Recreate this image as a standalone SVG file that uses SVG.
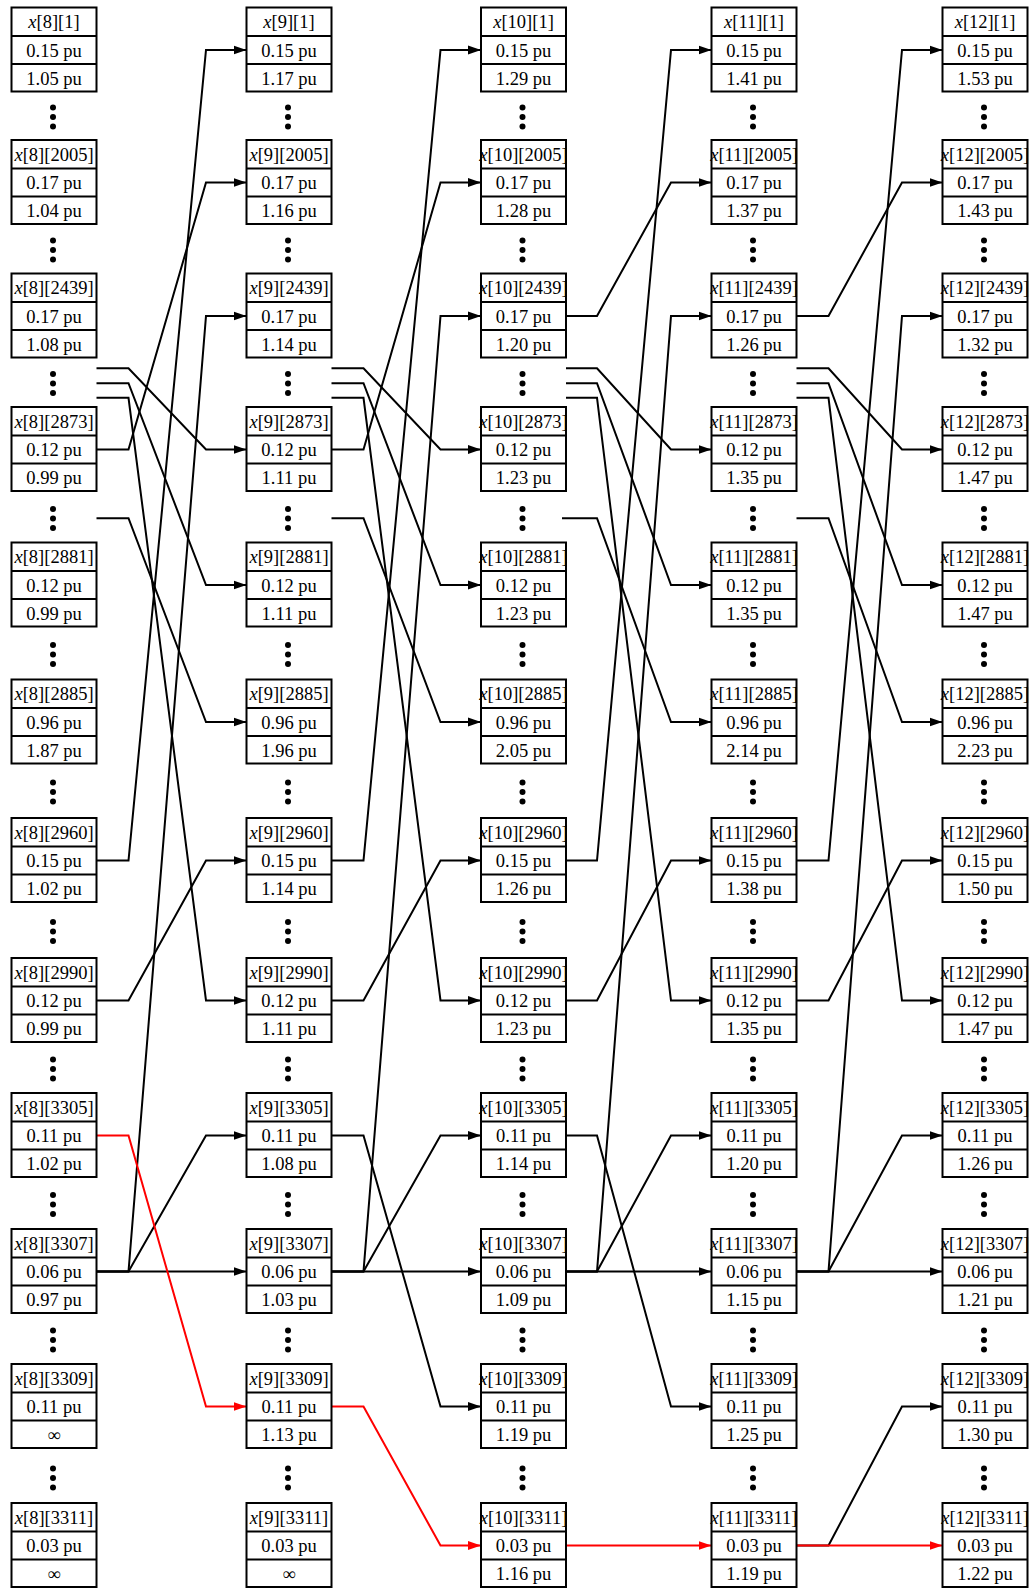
<svg xmlns="http://www.w3.org/2000/svg" xmlns:xlink="http://www.w3.org/1999/xlink" width="1031" height="1590" viewBox="0 0 1031 1590">
<style>
.n rect{fill:#fff;stroke:#000;stroke-width:2}
.n path{fill:none;stroke:#000;stroke-width:2}
.n text{font-family:"Liberation Serif","Times New Roman",serif;font-size:18.5px;text-anchor:middle;fill:#000}
.n tspan.i{font-style:italic}
.e path{fill:none;stroke:#000;stroke-width:2;marker-end:url(#ah)}
.e path.r{stroke:#ff0000;marker-end:url(#ahr)}
</style>
<defs>
<marker id="ah" markerUnits="userSpaceOnUse" viewBox="0 0 14 10" markerWidth="14" markerHeight="10" refX="13" refY="5" orient="auto"><path d="M0,0.5L13,5L0,9.5z" fill="#000"/></marker>
<marker id="ahr" markerUnits="userSpaceOnUse" viewBox="0 0 14 10" markerWidth="14" markerHeight="10" refX="13" refY="5" orient="auto"><path d="M0,0.5L13,5L0,9.5z" fill="#ff0000"/></marker>
<g id="dots"><circle cx="0" cy="-9.5" r="3"/><circle cx="0" cy="0" r="3"/><circle cx="0" cy="9.5" r="3"/></g>
</defs>
<rect width="1031" height="1590" fill="#fff"/>

<g id="dotrows" fill="#000">
<use xlink:href="#dots" x="53" y="117"/><use xlink:href="#dots" x="53" y="250"/><use xlink:href="#dots" x="53" y="383.5"/><use xlink:href="#dots" x="53" y="518.5"/><use xlink:href="#dots" x="53" y="654.5"/><use xlink:href="#dots" x="53" y="792"/><use xlink:href="#dots" x="53" y="931.5"/><use xlink:href="#dots" x="53" y="1069"/><use xlink:href="#dots" x="53" y="1204.5"/><use xlink:href="#dots" x="53" y="1340"/><use xlink:href="#dots" x="53" y="1478"/>
<use xlink:href="#dots" x="288" y="117"/><use xlink:href="#dots" x="288" y="250"/><use xlink:href="#dots" x="288" y="383.5"/><use xlink:href="#dots" x="288" y="518.5"/><use xlink:href="#dots" x="288" y="654.5"/><use xlink:href="#dots" x="288" y="792"/><use xlink:href="#dots" x="288" y="931.5"/><use xlink:href="#dots" x="288" y="1069"/><use xlink:href="#dots" x="288" y="1204.5"/><use xlink:href="#dots" x="288" y="1340"/><use xlink:href="#dots" x="288" y="1478"/>
<use xlink:href="#dots" x="522.5" y="117"/><use xlink:href="#dots" x="522.5" y="250"/><use xlink:href="#dots" x="522.5" y="383.5"/><use xlink:href="#dots" x="522.5" y="518.5"/><use xlink:href="#dots" x="522.5" y="654.5"/><use xlink:href="#dots" x="522.5" y="792"/><use xlink:href="#dots" x="522.5" y="931.5"/><use xlink:href="#dots" x="522.5" y="1069"/><use xlink:href="#dots" x="522.5" y="1204.5"/><use xlink:href="#dots" x="522.5" y="1340"/><use xlink:href="#dots" x="522.5" y="1478"/>
<use xlink:href="#dots" x="753" y="117"/><use xlink:href="#dots" x="753" y="250"/><use xlink:href="#dots" x="753" y="383.5"/><use xlink:href="#dots" x="753" y="518.5"/><use xlink:href="#dots" x="753" y="654.5"/><use xlink:href="#dots" x="753" y="792"/><use xlink:href="#dots" x="753" y="931.5"/><use xlink:href="#dots" x="753" y="1069"/><use xlink:href="#dots" x="753" y="1204.5"/><use xlink:href="#dots" x="753" y="1340"/><use xlink:href="#dots" x="753" y="1478"/>
<use xlink:href="#dots" x="984" y="117"/><use xlink:href="#dots" x="984" y="250"/><use xlink:href="#dots" x="984" y="383.5"/><use xlink:href="#dots" x="984" y="518.5"/><use xlink:href="#dots" x="984" y="654.5"/><use xlink:href="#dots" x="984" y="792"/><use xlink:href="#dots" x="984" y="931.5"/><use xlink:href="#dots" x="984" y="1069"/><use xlink:href="#dots" x="984" y="1204.5"/><use xlink:href="#dots" x="984" y="1340"/><use xlink:href="#dots" x="984" y="1478"/>
</g>

<g id="edges" class="e">
<path d="M96.5,368.25H128.5L206,449.5H246.5"/>
<path d="M96.5,383.25H128.5L206,585H246.5"/>
<path d="M96.5,397.75H128.5L206,1000.5H246.5"/>
<path d="M96.5,518.25H128.5L206,722H246.5"/>
<path d="M96.5,860.5H128.5L206,50H246.5"/>
<path d="M96.5,1000.5H128.5L206,860.5H246.5"/>
<path d="M96.5,1271.5H128.5L206,316H246.5"/>
<path d="M96.5,1271.5H128.5L206,1135.5H246.5"/>
<path d="M96.5,1271.5H246.5"/>
<path d="M96.5,449.5H128.5L206,182.5H246.5"/>

<path d="M331.5,368.25H363.5L440.5,449.5H481"/>
<path d="M331.5,383.25H363.5L440.5,585H481"/>
<path d="M331.5,397.75H363.5L440.5,1000.5H481"/>
<path d="M331.5,518.25H363.5L440.5,722H481"/>
<path d="M331.5,860.5H363.5L440.5,50H481"/>
<path d="M331.5,1000.5H363.5L440.5,860.5H481"/>
<path d="M331.5,1271.5H363.5L440.5,316H481"/>
<path d="M331.5,1271.5H363.5L440.5,1135.5H481"/>
<path d="M331.5,1271.5H481"/>
<path d="M331.5,449.5H363.5L440.5,182.5H481"/>
<path d="M331.5,1135.5H363.5L440.5,1406.5H481"/>

<path d="M566,368.25H597L671,449.5H711.5"/>
<path d="M566,383.25H597L671,585H711.5"/>
<path d="M566,397.75H597L671,1000.5H711.5"/>
<path d="M562,518.25H597L671,722H711.5"/>
<path d="M566,860.5H597L671,50H711.5"/>
<path d="M566,1000.5H597L671,860.5H711.5"/>
<path d="M566,1271.5H597L671,316H711.5"/>
<path d="M566,1271.5H597L671,1135.5H711.5"/>
<path d="M566,1271.5H711.5"/>
<path d="M566,316H597L671,182.5H711.5"/>
<path d="M566,1135.5H597L671,1406.5H711.5"/>

<path d="M796.5,368.25H828.5L902,449.5H942.5"/>
<path d="M796.5,383.25H828.5L902,585H942.5"/>
<path d="M796.5,397.75H828.5L902,1000.5H942.5"/>
<path d="M796.5,518.25H828.5L902,722H942.5"/>
<path d="M796.5,860.5H828.5L902,50H942.5"/>
<path d="M796.5,1000.5H828.5L902,860.5H942.5"/>
<path d="M796.5,1271.5H828.5L902,316H942.5"/>
<path d="M796.5,1271.5H828.5L902,1135.5H942.5"/>
<path d="M796.5,1271.5H942.5"/>
<path d="M796.5,316H828.5L902,182.5H942.5"/>
<path d="M796.5,1545.5H828.5L902,1406.5H942.5"/>

<path class="r" d="M96.5,1135.5H128.5L206,1406.5H246.5"/>
<path class="r" d="M331.5,1406.5H363.5L440.5,1545.5H481"/>
<path class="r" d="M566,1545.5H711.5"/>
<path class="r" d="M796.5,1545.5H942.5"/>
</g>

<g id="nodes">
<!-- column x[8] -->
<g id="x8_1" class="n" transform="translate(11.5,7.5)"><rect width="85" height="84"/><path d="M0,28.5H85M0,56.5H85"/><text x="42.5" y="20.5"><tspan class="i">x</tspan>[8][1]</text><text x="42.5" y="49">0.15 pu</text><text x="42.5" y="77">1.05 pu</text></g>
<g id="x8_2005" class="n" transform="translate(11.5,140)"><rect width="85" height="84"/><path d="M0,28.5H85M0,56.5H85"/><text x="42.5" y="20.5"><tspan class="i">x</tspan>[8][2005]</text><text x="42.5" y="49">0.17 pu</text><text x="42.5" y="77">1.04 pu</text></g>
<g id="x8_2439" class="n" transform="translate(11.5,273.5)"><rect width="85" height="84"/><path d="M0,28.5H85M0,56.5H85"/><text x="42.5" y="20.5"><tspan class="i">x</tspan>[8][2439]</text><text x="42.5" y="49">0.17 pu</text><text x="42.5" y="77">1.08 pu</text></g>
<g id="x8_2873" class="n" transform="translate(11.5,407)"><rect width="85" height="84"/><path d="M0,28.5H85M0,56.5H85"/><text x="42.5" y="20.5"><tspan class="i">x</tspan>[8][2873]</text><text x="42.5" y="49">0.12 pu</text><text x="42.5" y="77">0.99 pu</text></g>
<g id="x8_2881" class="n" transform="translate(11.5,542.5)"><rect width="85" height="84"/><path d="M0,28.5H85M0,56.5H85"/><text x="42.5" y="20.5"><tspan class="i">x</tspan>[8][2881]</text><text x="42.5" y="49">0.12 pu</text><text x="42.5" y="77">0.99 pu</text></g>
<g id="x8_2885" class="n" transform="translate(11.5,679.5)"><rect width="85" height="84"/><path d="M0,28.5H85M0,56.5H85"/><text x="42.5" y="20.5"><tspan class="i">x</tspan>[8][2885]</text><text x="42.5" y="49">0.96 pu</text><text x="42.5" y="77">1.87 pu</text></g>
<g id="x8_2960" class="n" transform="translate(11.5,818)"><rect width="85" height="84"/><path d="M0,28.5H85M0,56.5H85"/><text x="42.5" y="20.5"><tspan class="i">x</tspan>[8][2960]</text><text x="42.5" y="49">0.15 pu</text><text x="42.5" y="77">1.02 pu</text></g>
<g id="x8_2990" class="n" transform="translate(11.5,958)"><rect width="85" height="84"/><path d="M0,28.5H85M0,56.5H85"/><text x="42.5" y="20.5"><tspan class="i">x</tspan>[8][2990]</text><text x="42.5" y="49">0.12 pu</text><text x="42.5" y="77">0.99 pu</text></g>
<g id="x8_3305" class="n" transform="translate(11.5,1093)"><rect width="85" height="84"/><path d="M0,28.5H85M0,56.5H85"/><text x="42.5" y="20.5"><tspan class="i">x</tspan>[8][3305]</text><text x="42.5" y="49">0.11 pu</text><text x="42.5" y="77">1.02 pu</text></g>
<g id="x8_3307" class="n" transform="translate(11.5,1229)"><rect width="85" height="84"/><path d="M0,28.5H85M0,56.5H85"/><text x="42.5" y="20.5"><tspan class="i">x</tspan>[8][3307]</text><text x="42.5" y="49">0.06 pu</text><text x="42.5" y="77">0.97 pu</text></g>
<g id="x8_3309" class="n" transform="translate(11.5,1364)"><rect width="85" height="84"/><path d="M0,28.5H85M0,56.5H85"/><text x="42.5" y="20.5"><tspan class="i">x</tspan>[8][3309]</text><text x="42.5" y="49">0.11 pu</text><text x="42.5" y="77">∞</text></g>
<g id="x8_3311" class="n" transform="translate(11.5,1503)"><rect width="85" height="84"/><path d="M0,28.5H85M0,56.5H85"/><text x="42.5" y="20.5"><tspan class="i">x</tspan>[8][3311]</text><text x="42.5" y="49">0.03 pu</text><text x="42.5" y="77">∞</text></g>
<!-- column x[9] -->
<g id="x9_1" class="n" transform="translate(246.5,7.5)"><rect width="85" height="84"/><path d="M0,28.5H85M0,56.5H85"/><text x="42.5" y="20.5"><tspan class="i">x</tspan>[9][1]</text><text x="42.5" y="49">0.15 pu</text><text x="42.5" y="77">1.17 pu</text></g>
<g id="x9_2005" class="n" transform="translate(246.5,140)"><rect width="85" height="84"/><path d="M0,28.5H85M0,56.5H85"/><text x="42.5" y="20.5"><tspan class="i">x</tspan>[9][2005]</text><text x="42.5" y="49">0.17 pu</text><text x="42.5" y="77">1.16 pu</text></g>
<g id="x9_2439" class="n" transform="translate(246.5,273.5)"><rect width="85" height="84"/><path d="M0,28.5H85M0,56.5H85"/><text x="42.5" y="20.5"><tspan class="i">x</tspan>[9][2439]</text><text x="42.5" y="49">0.17 pu</text><text x="42.5" y="77">1.14 pu</text></g>
<g id="x9_2873" class="n" transform="translate(246.5,407)"><rect width="85" height="84"/><path d="M0,28.5H85M0,56.5H85"/><text x="42.5" y="20.5"><tspan class="i">x</tspan>[9][2873]</text><text x="42.5" y="49">0.12 pu</text><text x="42.5" y="77">1.11 pu</text></g>
<g id="x9_2881" class="n" transform="translate(246.5,542.5)"><rect width="85" height="84"/><path d="M0,28.5H85M0,56.5H85"/><text x="42.5" y="20.5"><tspan class="i">x</tspan>[9][2881]</text><text x="42.5" y="49">0.12 pu</text><text x="42.5" y="77">1.11 pu</text></g>
<g id="x9_2885" class="n" transform="translate(246.5,679.5)"><rect width="85" height="84"/><path d="M0,28.5H85M0,56.5H85"/><text x="42.5" y="20.5"><tspan class="i">x</tspan>[9][2885]</text><text x="42.5" y="49">0.96 pu</text><text x="42.5" y="77">1.96 pu</text></g>
<g id="x9_2960" class="n" transform="translate(246.5,818)"><rect width="85" height="84"/><path d="M0,28.5H85M0,56.5H85"/><text x="42.5" y="20.5"><tspan class="i">x</tspan>[9][2960]</text><text x="42.5" y="49">0.15 pu</text><text x="42.5" y="77">1.14 pu</text></g>
<g id="x9_2990" class="n" transform="translate(246.5,958)"><rect width="85" height="84"/><path d="M0,28.5H85M0,56.5H85"/><text x="42.5" y="20.5"><tspan class="i">x</tspan>[9][2990]</text><text x="42.5" y="49">0.12 pu</text><text x="42.5" y="77">1.11 pu</text></g>
<g id="x9_3305" class="n" transform="translate(246.5,1093)"><rect width="85" height="84"/><path d="M0,28.5H85M0,56.5H85"/><text x="42.5" y="20.5"><tspan class="i">x</tspan>[9][3305]</text><text x="42.5" y="49">0.11 pu</text><text x="42.5" y="77">1.08 pu</text></g>
<g id="x9_3307" class="n" transform="translate(246.5,1229)"><rect width="85" height="84"/><path d="M0,28.5H85M0,56.5H85"/><text x="42.5" y="20.5"><tspan class="i">x</tspan>[9][3307]</text><text x="42.5" y="49">0.06 pu</text><text x="42.5" y="77">1.03 pu</text></g>
<g id="x9_3309" class="n" transform="translate(246.5,1364)"><rect width="85" height="84"/><path d="M0,28.5H85M0,56.5H85"/><text x="42.5" y="20.5"><tspan class="i">x</tspan>[9][3309]</text><text x="42.5" y="49">0.11 pu</text><text x="42.5" y="77">1.13 pu</text></g>
<g id="x9_3311" class="n" transform="translate(246.5,1503)"><rect width="85" height="84"/><path d="M0,28.5H85M0,56.5H85"/><text x="42.5" y="20.5"><tspan class="i">x</tspan>[9][3311]</text><text x="42.5" y="49">0.03 pu</text><text x="42.5" y="77">∞</text></g>
<!-- column x[10] -->
<g id="x10_1" class="n" transform="translate(481,7.5)"><rect width="85" height="84"/><path d="M0,28.5H85M0,56.5H85"/><text x="42.5" y="20.5"><tspan class="i">x</tspan>[10][1]</text><text x="42.5" y="49">0.15 pu</text><text x="42.5" y="77">1.29 pu</text></g>
<g id="x10_2005" class="n" transform="translate(481,140)"><rect width="85" height="84"/><path d="M0,28.5H85M0,56.5H85"/><text x="42.5" y="20.5"><tspan class="i">x</tspan>[10][2005]</text><text x="42.5" y="49">0.17 pu</text><text x="42.5" y="77">1.28 pu</text></g>
<g id="x10_2439" class="n" transform="translate(481,273.5)"><rect width="85" height="84"/><path d="M0,28.5H85M0,56.5H85"/><text x="42.5" y="20.5"><tspan class="i">x</tspan>[10][2439]</text><text x="42.5" y="49">0.17 pu</text><text x="42.5" y="77">1.20 pu</text></g>
<g id="x10_2873" class="n" transform="translate(481,407)"><rect width="85" height="84"/><path d="M0,28.5H85M0,56.5H85"/><text x="42.5" y="20.5"><tspan class="i">x</tspan>[10][2873]</text><text x="42.5" y="49">0.12 pu</text><text x="42.5" y="77">1.23 pu</text></g>
<g id="x10_2881" class="n" transform="translate(481,542.5)"><rect width="85" height="84"/><path d="M0,28.5H85M0,56.5H85"/><text x="42.5" y="20.5"><tspan class="i">x</tspan>[10][2881]</text><text x="42.5" y="49">0.12 pu</text><text x="42.5" y="77">1.23 pu</text></g>
<g id="x10_2885" class="n" transform="translate(481,679.5)"><rect width="85" height="84"/><path d="M0,28.5H85M0,56.5H85"/><text x="42.5" y="20.5"><tspan class="i">x</tspan>[10][2885]</text><text x="42.5" y="49">0.96 pu</text><text x="42.5" y="77">2.05 pu</text></g>
<g id="x10_2960" class="n" transform="translate(481,818)"><rect width="85" height="84"/><path d="M0,28.5H85M0,56.5H85"/><text x="42.5" y="20.5"><tspan class="i">x</tspan>[10][2960]</text><text x="42.5" y="49">0.15 pu</text><text x="42.5" y="77">1.26 pu</text></g>
<g id="x10_2990" class="n" transform="translate(481,958)"><rect width="85" height="84"/><path d="M0,28.5H85M0,56.5H85"/><text x="42.5" y="20.5"><tspan class="i">x</tspan>[10][2990]</text><text x="42.5" y="49">0.12 pu</text><text x="42.5" y="77">1.23 pu</text></g>
<g id="x10_3305" class="n" transform="translate(481,1093)"><rect width="85" height="84"/><path d="M0,28.5H85M0,56.5H85"/><text x="42.5" y="20.5"><tspan class="i">x</tspan>[10][3305]</text><text x="42.5" y="49">0.11 pu</text><text x="42.5" y="77">1.14 pu</text></g>
<g id="x10_3307" class="n" transform="translate(481,1229)"><rect width="85" height="84"/><path d="M0,28.5H85M0,56.5H85"/><text x="42.5" y="20.5"><tspan class="i">x</tspan>[10][3307]</text><text x="42.5" y="49">0.06 pu</text><text x="42.5" y="77">1.09 pu</text></g>
<g id="x10_3309" class="n" transform="translate(481,1364)"><rect width="85" height="84"/><path d="M0,28.5H85M0,56.5H85"/><text x="42.5" y="20.5"><tspan class="i">x</tspan>[10][3309]</text><text x="42.5" y="49">0.11 pu</text><text x="42.5" y="77">1.19 pu</text></g>
<g id="x10_3311" class="n" transform="translate(481,1503)"><rect width="85" height="84"/><path d="M0,28.5H85M0,56.5H85"/><text x="42.5" y="20.5"><tspan class="i">x</tspan>[10][3311]</text><text x="42.5" y="49">0.03 pu</text><text x="42.5" y="77">1.16 pu</text></g>
<!-- column x[11] -->
<g id="x11_1" class="n" transform="translate(711.5,7.5)"><rect width="85" height="84"/><path d="M0,28.5H85M0,56.5H85"/><text x="42.5" y="20.5"><tspan class="i">x</tspan>[11][1]</text><text x="42.5" y="49">0.15 pu</text><text x="42.5" y="77">1.41 pu</text></g>
<g id="x11_2005" class="n" transform="translate(711.5,140)"><rect width="85" height="84"/><path d="M0,28.5H85M0,56.5H85"/><text x="42.5" y="20.5"><tspan class="i">x</tspan>[11][2005]</text><text x="42.5" y="49">0.17 pu</text><text x="42.5" y="77">1.37 pu</text></g>
<g id="x11_2439" class="n" transform="translate(711.5,273.5)"><rect width="85" height="84"/><path d="M0,28.5H85M0,56.5H85"/><text x="42.5" y="20.5"><tspan class="i">x</tspan>[11][2439]</text><text x="42.5" y="49">0.17 pu</text><text x="42.5" y="77">1.26 pu</text></g>
<g id="x11_2873" class="n" transform="translate(711.5,407)"><rect width="85" height="84"/><path d="M0,28.5H85M0,56.5H85"/><text x="42.5" y="20.5"><tspan class="i">x</tspan>[11][2873]</text><text x="42.5" y="49">0.12 pu</text><text x="42.5" y="77">1.35 pu</text></g>
<g id="x11_2881" class="n" transform="translate(711.5,542.5)"><rect width="85" height="84"/><path d="M0,28.5H85M0,56.5H85"/><text x="42.5" y="20.5"><tspan class="i">x</tspan>[11][2881]</text><text x="42.5" y="49">0.12 pu</text><text x="42.5" y="77">1.35 pu</text></g>
<g id="x11_2885" class="n" transform="translate(711.5,679.5)"><rect width="85" height="84"/><path d="M0,28.5H85M0,56.5H85"/><text x="42.5" y="20.5"><tspan class="i">x</tspan>[11][2885]</text><text x="42.5" y="49">0.96 pu</text><text x="42.5" y="77">2.14 pu</text></g>
<g id="x11_2960" class="n" transform="translate(711.5,818)"><rect width="85" height="84"/><path d="M0,28.5H85M0,56.5H85"/><text x="42.5" y="20.5"><tspan class="i">x</tspan>[11][2960]</text><text x="42.5" y="49">0.15 pu</text><text x="42.5" y="77">1.38 pu</text></g>
<g id="x11_2990" class="n" transform="translate(711.5,958)"><rect width="85" height="84"/><path d="M0,28.5H85M0,56.5H85"/><text x="42.5" y="20.5"><tspan class="i">x</tspan>[11][2990]</text><text x="42.5" y="49">0.12 pu</text><text x="42.5" y="77">1.35 pu</text></g>
<g id="x11_3305" class="n" transform="translate(711.5,1093)"><rect width="85" height="84"/><path d="M0,28.5H85M0,56.5H85"/><text x="42.5" y="20.5"><tspan class="i">x</tspan>[11][3305]</text><text x="42.5" y="49">0.11 pu</text><text x="42.5" y="77">1.20 pu</text></g>
<g id="x11_3307" class="n" transform="translate(711.5,1229)"><rect width="85" height="84"/><path d="M0,28.5H85M0,56.5H85"/><text x="42.5" y="20.5"><tspan class="i">x</tspan>[11][3307]</text><text x="42.5" y="49">0.06 pu</text><text x="42.5" y="77">1.15 pu</text></g>
<g id="x11_3309" class="n" transform="translate(711.5,1364)"><rect width="85" height="84"/><path d="M0,28.5H85M0,56.5H85"/><text x="42.5" y="20.5"><tspan class="i">x</tspan>[11][3309]</text><text x="42.5" y="49">0.11 pu</text><text x="42.5" y="77">1.25 pu</text></g>
<g id="x11_3311" class="n" transform="translate(711.5,1503)"><rect width="85" height="84"/><path d="M0,28.5H85M0,56.5H85"/><text x="42.5" y="20.5"><tspan class="i">x</tspan>[11][3311]</text><text x="42.5" y="49">0.03 pu</text><text x="42.5" y="77">1.19 pu</text></g>
<!-- column x[12] -->
<g id="x12_1" class="n" transform="translate(942.5,7.5)"><rect width="85" height="84"/><path d="M0,28.5H85M0,56.5H85"/><text x="42.5" y="20.5"><tspan class="i">x</tspan>[12][1]</text><text x="42.5" y="49">0.15 pu</text><text x="42.5" y="77">1.53 pu</text></g>
<g id="x12_2005" class="n" transform="translate(942.5,140)"><rect width="85" height="84"/><path d="M0,28.5H85M0,56.5H85"/><text x="42.5" y="20.5"><tspan class="i">x</tspan>[12][2005]</text><text x="42.5" y="49">0.17 pu</text><text x="42.5" y="77">1.43 pu</text></g>
<g id="x12_2439" class="n" transform="translate(942.5,273.5)"><rect width="85" height="84"/><path d="M0,28.5H85M0,56.5H85"/><text x="42.5" y="20.5"><tspan class="i">x</tspan>[12][2439]</text><text x="42.5" y="49">0.17 pu</text><text x="42.5" y="77">1.32 pu</text></g>
<g id="x12_2873" class="n" transform="translate(942.5,407)"><rect width="85" height="84"/><path d="M0,28.5H85M0,56.5H85"/><text x="42.5" y="20.5"><tspan class="i">x</tspan>[12][2873]</text><text x="42.5" y="49">0.12 pu</text><text x="42.5" y="77">1.47 pu</text></g>
<g id="x12_2881" class="n" transform="translate(942.5,542.5)"><rect width="85" height="84"/><path d="M0,28.5H85M0,56.5H85"/><text x="42.5" y="20.5"><tspan class="i">x</tspan>[12][2881]</text><text x="42.5" y="49">0.12 pu</text><text x="42.5" y="77">1.47 pu</text></g>
<g id="x12_2885" class="n" transform="translate(942.5,679.5)"><rect width="85" height="84"/><path d="M0,28.5H85M0,56.5H85"/><text x="42.5" y="20.5"><tspan class="i">x</tspan>[12][2885]</text><text x="42.5" y="49">0.96 pu</text><text x="42.5" y="77">2.23 pu</text></g>
<g id="x12_2960" class="n" transform="translate(942.5,818)"><rect width="85" height="84"/><path d="M0,28.5H85M0,56.5H85"/><text x="42.5" y="20.5"><tspan class="i">x</tspan>[12][2960]</text><text x="42.5" y="49">0.15 pu</text><text x="42.5" y="77">1.50 pu</text></g>
<g id="x12_2990" class="n" transform="translate(942.5,958)"><rect width="85" height="84"/><path d="M0,28.5H85M0,56.5H85"/><text x="42.5" y="20.5"><tspan class="i">x</tspan>[12][2990]</text><text x="42.5" y="49">0.12 pu</text><text x="42.5" y="77">1.47 pu</text></g>
<g id="x12_3305" class="n" transform="translate(942.5,1093)"><rect width="85" height="84"/><path d="M0,28.5H85M0,56.5H85"/><text x="42.5" y="20.5"><tspan class="i">x</tspan>[12][3305]</text><text x="42.5" y="49">0.11 pu</text><text x="42.5" y="77">1.26 pu</text></g>
<g id="x12_3307" class="n" transform="translate(942.5,1229)"><rect width="85" height="84"/><path d="M0,28.5H85M0,56.5H85"/><text x="42.5" y="20.5"><tspan class="i">x</tspan>[12][3307]</text><text x="42.5" y="49">0.06 pu</text><text x="42.5" y="77">1.21 pu</text></g>
<g id="x12_3309" class="n" transform="translate(942.5,1364)"><rect width="85" height="84"/><path d="M0,28.5H85M0,56.5H85"/><text x="42.5" y="20.5"><tspan class="i">x</tspan>[12][3309]</text><text x="42.5" y="49">0.11 pu</text><text x="42.5" y="77">1.30 pu</text></g>
<g id="x12_3311" class="n" transform="translate(942.5,1503)"><rect width="85" height="84"/><path d="M0,28.5H85M0,56.5H85"/><text x="42.5" y="20.5"><tspan class="i">x</tspan>[12][3311]</text><text x="42.5" y="49">0.03 pu</text><text x="42.5" y="77">1.22 pu</text></g>
</g>
</svg>
